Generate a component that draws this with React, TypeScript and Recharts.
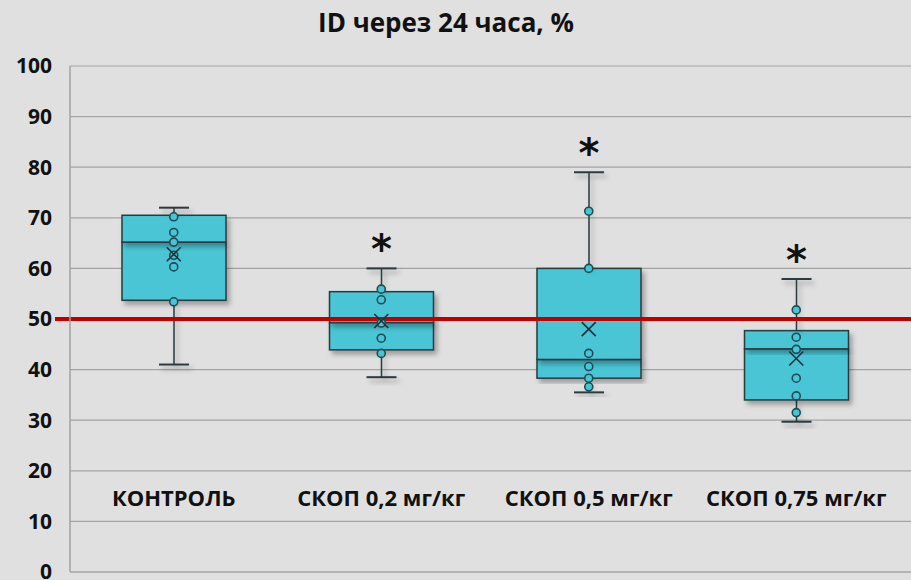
import React from "react"
import {
  ComposedChart,
  Bar,
  Scatter,
  XAxis,
  YAxis,
  CartesianGrid,
  ReferenceLine
} from "recharts"

const categories = ["КОНТРОЛЬ", "СКОП 0,2 мг/кг", "СКОП 0,5 мг/кг", "СКОП 0,75 мг/кг"]
const whiskerMin = [41, 38.5, 35.5, 29.7]
const q1 = [53.7, 43.9, 38.3, 34.0]
const median = [65.2, 49.3, 42.0, 44.1]
const q3 = [70.5, 55.4, 60.0, 47.7]
const whiskerMax = [72, 60, 79, 57.9]
const means = [62.8, 49.6, 48.0, 42.2]
const stars = [false, true, true, true]

const pointsControl = [70.2, 67.1, 65.2, 62.6, 60.3, 53.4]
const points02 = [55.9, 53.8, 49.2, 46.2, 43.2]
const points05 = [71.3, 60.0, 43.2, 40.6, 38.3, 36.6]
const points075 = [51.8, 46.4, 44.0, 38.3, 34.8, 31.5]

const yTicks = [0, 10, 20, 30, 40, 50, 60, 70, 80, 90, 100]

const FONT = "'Open Sans', 'Noto Sans', sans-serif"
const BOX_FILL = "#48c5d5"
const DARK = "#2a3a3e"

const data = categories.map((cat, i) => ({
  cat,
  base: whiskerMin[i],
  lowWhisker: q1[i] - whiskerMin[i],
  lowBox: median[i] - q1[i],
  highBox: q3[i] - median[i],
  highWhisker: whiskerMax[i] - q3[i],
  star: stars[i]
}))

const pointData = [pointsControl, points02, points05, points075].flatMap((arr, i) =>
  arr.map((v) => ({ cat: categories[i], v }))
)
const meanData = categories.map((cat, i) => ({ cat, v: means[i] }))

const CAP = 15

function LowWhisker(props: any) {
  const { x, y, width, height } = props
  const cx = x + width / 2
  return (
    <g filter="url(#shadow)">
      <line x1={cx} y1={y} x2={cx} y2={y + height} stroke={DARK} strokeWidth={1.5} />
      <line x1={cx - CAP} y1={y + height} x2={cx + CAP} y2={y + height} stroke={DARK} strokeWidth={2} />
    </g>
  )
}

function HighWhisker(props: any) {
  const { x, y, width, height, payload } = props
  const cx = x + width / 2
  return (
    <g>
      <g filter="url(#shadow)">
        <line x1={cx} y1={y} x2={cx} y2={y + height} stroke={DARK} strokeWidth={1.5} />
        <line x1={cx - CAP} y1={y} x2={cx + CAP} y2={y} stroke={DARK} strokeWidth={2} />
      </g>
      {payload && payload.star ? (
        <text
          x={cx}
          y={y - 5}
          textAnchor="middle"
          fontSize={40}
          fontWeight={700}
          fontFamily="'DejaVu Sans', sans-serif"
          fill="#111"
        >
          *
        </text>
      ) : null}
    </g>
  )
}

function BoxPart(props: any) {
  const { x, y, width, height } = props
  return (
    <rect
      x={x}
      y={y}
      width={width}
      height={height}
      fill={BOX_FILL}
      stroke={DARK}
      strokeWidth={1.5}
      filter="url(#shadow)"
    />
  )
}

function PointShape(props: any) {
  const { cx, cy } = props
  return <circle cx={cx} cy={cy} r={4} fill={BOX_FILL} stroke="#1d4b55" strokeWidth={1.6} />
}

function MeanShape(props: any) {
  const { cx, cy } = props
  const s = 7
  return (
    <g stroke="#1d3338" strokeWidth={1.6}>
      <line x1={cx - s} y1={cy - s} x2={cx + s} y2={cy + s} />
      <line x1={cx - s} y1={cy + s} x2={cx + s} y2={cy - s} />
    </g>
  )
}

function CategoryTick(props: any) {
  const { x, y, payload } = props
  return (
    <text x={x} y={y - 66} textAnchor="middle" fontSize={22} fontWeight={700} fontFamily={FONT} fill="#111">
      {payload.value}
    </text>
  )
}

function RedLine(props: any) {
  const { x1, y1, x2, y2 } = props
  return <line x1={x1 - 15} y1={y1} x2={x2} y2={y2} stroke="#c00000" strokeWidth={4} />
}

export default function App() {
  return (
    <div
      style={{
        position: "absolute",
        left: 0,
        top: 0,
        width: 911,
        height: 580,
        background: "#e0e0e0",
        overflow: "hidden"
      }}
    >
      <div
        style={{
          position: "absolute",
          left: 0,
          top: 4,
          width: 892,
          textAlign: "center",
          fontFamily: FONT,
          fontWeight: 700,
          fontSize: 26,
          color: "#111"
        }}
      >
        ID через 24 часа, %
      </div>
      <ComposedChart
        width={911}
        height={580}
        data={data}
        margin={{ top: 66, right: 0, bottom: 0, left: 10 }}
        barSize={104}
      >
        <defs>
          <filter id="shadow" x="-20%" y="-20%" width="150%" height="150%">
            <feDropShadow dx={3} dy={4} stdDeviation={2.5} floodColor="#000" floodOpacity={0.3} />
          </filter>
        </defs>
        <CartesianGrid vertical={false} stroke="#a3a3a3" strokeWidth={1.2} />
        <XAxis
          dataKey="cat"
          allowDuplicatedCategory={false}
          height={8}
          padding={{ left: 0, right: 11 }}
          axisLine={{ stroke: "#a3a3a3", strokeWidth: 1.2 }}
          tickLine={false}
          tickSize={0}
          tickMargin={0}
          tick={<CategoryTick />}
          interval={0}
        />
        <YAxis
          width={60}
          domain={[0, 100]}
          ticks={yTicks}
          interval={0}
          axisLine={{ stroke: "#a3a3a3", strokeWidth: 1.5 }}
          tickLine={false}
          tickSize={0}
          tickMargin={18}
          tick={{ fontSize: 21, fontWeight: 700, fontFamily: FONT, fill: "#111" }}
        />
        <Bar dataKey="base" stackId="box" fill="transparent" isAnimationActive={false} />
        <Bar dataKey="lowWhisker" stackId="box" shape={<LowWhisker />} isAnimationActive={false} />
        <Bar dataKey="lowBox" stackId="box" shape={<BoxPart />} isAnimationActive={false} />
        <Bar dataKey="highBox" stackId="box" shape={<BoxPart />} isAnimationActive={false} />
        <Bar dataKey="highWhisker" stackId="box" shape={<HighWhisker />} isAnimationActive={false} />
        <Scatter data={pointData} dataKey="v" shape={<PointShape />} isAnimationActive={false} />
        <Scatter data={meanData} dataKey="v" shape={<MeanShape />} isAnimationActive={false} />
        <ReferenceLine y={50} shape={<RedLine />} />
      </ComposedChart>
    </div>
  )
}
